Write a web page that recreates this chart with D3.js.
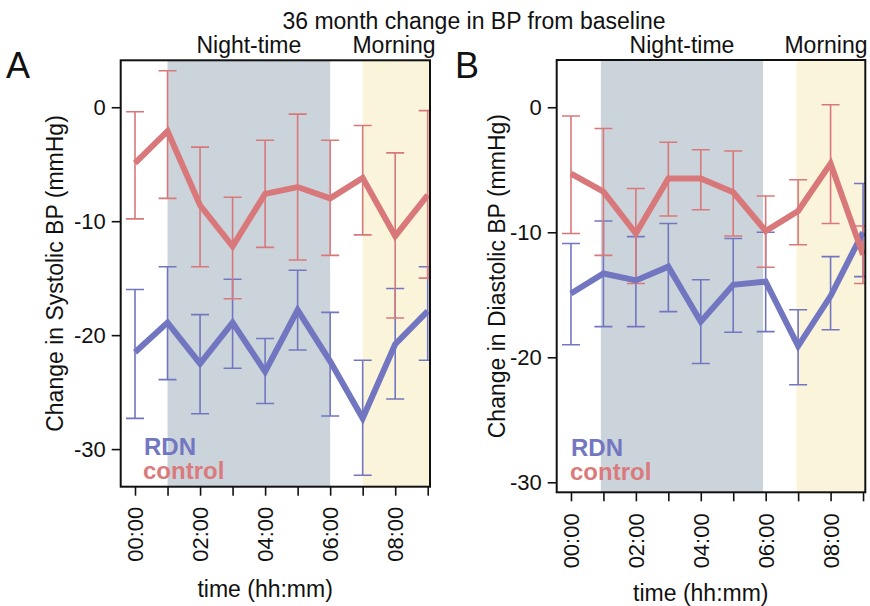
<!DOCTYPE html>
<html>
<head>
<meta charset="utf-8">
<script src="https://cdn.jsdelivr.net/npm/d3@7"></script>
<style>
  body { margin: 0; background: #fff; }
  text { font-family: "Liberation Sans", Arial, Helvetica, sans-serif; fill: #111; }
</style>
</head>
<body>
<script>
// Hours of the day (x values) and their tick labels
var hours = [0, 1, 2, 3, 4, 5, 6, 7, 8, 9];
var hourLabels = ["00:00", "", "02:00", "", "04:00", "", "06:00", "", "08:00", ""];
var yTicks = [0, -10, -20, -30];

// Panel A: systolic BP change (mmHg)
var sysControl   = [-4.9, -2.1, -8.6, -12.2, -7.6, -7.0, -8.0, -6.2, -11.3, -7.7];
var sysControlHi = [-0.4, 3.2, -3.5, -7.9, -2.9, -0.6, -2.9, -1.6, -4.0, -0.3];
var sysControlLo = [-9.8, -8.0, -14.0, -16.8, -12.3, -13.4, -13.0, -11.2, -18.5, -15.0];
var sysRDN       = [-21.5, -18.9, -22.5, -18.9, -23.2, -17.8, -22.3, -27.3, -20.8, -17.9];
var sysRDNHi     = [-16.0, -14.0, -18.2, -15.1, -20.3, -14.3, -18.0, -22.2, -15.9, -14.0];
var sysRDNLo     = [-27.3, -23.9, -26.9, -22.9, -26.0, -21.3, -27.1, -32.3, -25.6, -22.2];

// Panel B: diastolic BP change (mmHg)
var diaControl   = [-5.3, -6.75, -10.1, -5.7, -5.7, -6.8, -9.9, -8.3, -4.5, -11.8];
var diaControlHi = [-0.7, -1.7, -6.5, -2.8, -3.4, -3.5, -7.1, -5.8, 0.2, -9.5];
var diaControlLo = [-10.1, -11.85, -14.1, -8.7, -8.2, -10.3, -12.8, -11.0, -9.3, -14.1];
var diaRDN       = [-14.9, -13.3, -13.85, -12.75, -17.15, -14.2, -13.95, -19.1, -15.1, -10.0];
var diaRDNHi     = [-10.9, -9.1, -10.35, -9.3, -13.8, -10.5, -10.0, -16.2, -11.95, -6.1];
var diaRDNLo     = [-19.0, -17.55, -17.55, -16.35, -20.5, -18.0, -17.95, -22.2, -17.8, -13.55];

var red = "#d8787b";
var blue = "#7276c0";

var svg = d3.select("body")
    .append("svg")
    .attr("width", 870)
    .attr("height", 606);

// Overall title
svg.append("text")
    .attr("x", 474)
    .attr("y", 29)
    .attr("text-anchor", "middle")
    .style("font-size", "23px")
    .text("36 month change in BP from baseline");

// One panel
function drawPanel(p) {
    var x = d3.scaleLinear().domain([-0.44, 9.07]).range([p.left, p.right]);
    var y = d3.scaleLinear().domain(p.yDomain).range([p.bottom, p.top]);

    var g = svg.append("g");

    // shaded periods
    g.append("rect")
        .attr("x", x(p.night[0]))
        .attr("y", p.top)
        .attr("width", x(p.night[1]) - x(p.night[0]))
        .attr("height", p.bottom - p.top)
        .attr("fill", "#ccd4db");
    g.append("rect")
        .attr("x", x(p.morning))
        .attr("y", p.top)
        .attr("width", p.right - x(p.morning))
        .attr("height", p.bottom - p.top)
        .attr("fill", "#faf4da");

    g.append("text")
        .attr("x", x((p.night[0] + p.night[1]) / 2))
        .attr("y", 53)
        .attr("text-anchor", "middle")
        .style("font-size", "23px")
        .text("Night-time");
    g.append("text")
        .attr("x", p.morningX)
        .attr("y", 53)
        .attr("text-anchor", "middle")
        .style("font-size", "23px")
        .text("Morning");

    // clip marks to the frame
    var clipId = "clip" + p.name;
    svg.append("clipPath").attr("id", clipId)
        .append("rect")
        .attr("x", p.left).attr("y", p.top)
        .attr("width", p.right - p.left).attr("height", p.bottom - p.top);

    var marks = g.append("g").attr("clip-path", "url(#" + clipId + ")");

    var line = d3.line()
        .x(function (d, i) { return x(hours[i]); })
        .y(function (d) { return y(d); });

    p.series.forEach(function (s) {
        var bars = marks.append("g")
            .attr("stroke", s.color)
            .attr("stroke-width", 1.6);
        hours.forEach(function (h, i) {
            bars.append("line")
                .attr("x1", x(h)).attr("x2", x(h))
                .attr("y1", y(s.hi[i])).attr("y2", y(s.lo[i]));
            bars.append("line")
                .attr("x1", x(h) - 9).attr("x2", x(h) + 9)
                .attr("y1", y(s.hi[i])).attr("y2", y(s.hi[i]));
            bars.append("line")
                .attr("x1", x(h) - 9).attr("x2", x(h) + 9)
                .attr("y1", y(s.lo[i])).attr("y2", y(s.lo[i]));
        });
    });

    p.series.forEach(function (s) {
        marks.append("path")
            .attr("d", line(s.mean))
            .attr("fill", "none")
            .attr("stroke", s.color)
            .attr("stroke-width", 6)
            .attr("stroke-linejoin", "miter");
    });

    // frame
    g.append("rect")
        .attr("x", p.left).attr("y", p.top)
        .attr("width", p.right - p.left).attr("height", p.bottom - p.top)
        .attr("fill", "none")
        .attr("stroke", "#111")
        .attr("stroke-width", 2);

    // y axis (plain hyphen for negatives, as in the original)
    var yAxis = g.append("g")
        .attr("transform", "translate(" + p.left + ",0)")
        .call(d3.axisLeft(y).tickValues(yTicks).tickSize(9).tickPadding(6)
            .tickFormat(function (d) { return String(d); }));
    yAxis.select(".domain").remove();
    yAxis.selectAll(".tick line").attr("stroke", "#111").attr("stroke-width", 1.6);
    yAxis.selectAll(".tick text")
        .style("font-size", "22px")
        .style("font-family", "'Liberation Sans', Arial, sans-serif")
        .attr("fill", "#111");

    // x axis
    var xAxis = g.append("g")
        .attr("transform", "translate(0," + p.bottom + ")")
        .call(d3.axisBottom(x).tickValues(hours).tickSize(9)
            .tickFormat(function (d, i) { return hourLabels[i]; }));
    xAxis.select(".domain").remove();
    xAxis.selectAll(".tick line").attr("stroke", "#111").attr("stroke-width", 1.6);
    xAxis.selectAll(".tick text")
        .style("font-size", "22px")
        .style("font-family", "'Liberation Sans', Arial, sans-serif")
        .attr("fill", "#111")
        .attr("text-anchor", "end")
        .attr("transform", "rotate(-90)")
        .attr("x", -p.xLabelGap)
        .attr("y", 0)
        .attr("dy", "0.35em");

    // axis titles
    g.append("text")
        .attr("transform", "translate(" + p.yTitleX + "," + ((p.top + p.bottom) / 2) + ") rotate(-90)")
        .attr("text-anchor", "middle")
        .style("font-size", "23px")
        .text(p.yTitle);
    g.append("text")
        .attr("x", x(4))
        .attr("y", p.xTitleY)
        .attr("text-anchor", "middle")
        .style("font-size", "23px")
        .text("time (hh:mm)");

    // panel letter
    g.append("text")
        .attr("x", p.letterX)
        .attr("y", 78)
        .style("font-size", "36px")
        .text(p.name);

    // legend
    g.append("text")
        .attr("x", p.legendX)
        .attr("y", p.legendY)
        .style("font-size", "24px")
        .style("font-weight", "bold")
        .style("fill", "#7377c2")
        .text("RDN");
    g.append("text")
        .attr("x", p.legendX - 1)
        .attr("y", p.legendY + 24)
        .style("font-size", "24px")
        .style("font-weight", "bold")
        .style("fill", "#da7a7c")
        .text("control");
}

drawPanel({
    name: "A",
    left: 120.7, right: 430, top: 60.3, bottom: 486.7,
    yDomain: [-33.3, 4.12],
    night: [1, 6], morning: 7, morningX: 394,
    xLabelGap: 20,
    yTitle: "Change in Systolic BP (mmHg)", yTitleX: 63, xTitleY: 597,
    letterX: 6, legendX: 144, legendY: 455,
    series: [
        { mean: sysRDN, hi: sysRDNHi, lo: sysRDNLo, color: blue },
        { mean: sysControl, hi: sysControlHi, lo: sysControlLo, color: red }
    ]
});

drawPanel({
    name: "B",
    left: 556.7, right: 865.3, top: 60, bottom: 492.3,
    yDomain: [-30.8, 3.78],
    night: [0.92, 5.92], morning: 6.95, morningX: 826,
    xLabelGap: 21,
    yTitle: "Change in Diastolic BP (mmHg)", yTitleX: 504.5, xTitleY: 601,
    letterX: 455, legendX: 571, legendY: 456,
    series: [
        { mean: diaRDN, hi: diaRDNHi, lo: diaRDNLo, color: blue },
        { mean: diaControl, hi: diaControlHi, lo: diaControlLo, color: red }
    ]
});
</script>
</body>
</html>
